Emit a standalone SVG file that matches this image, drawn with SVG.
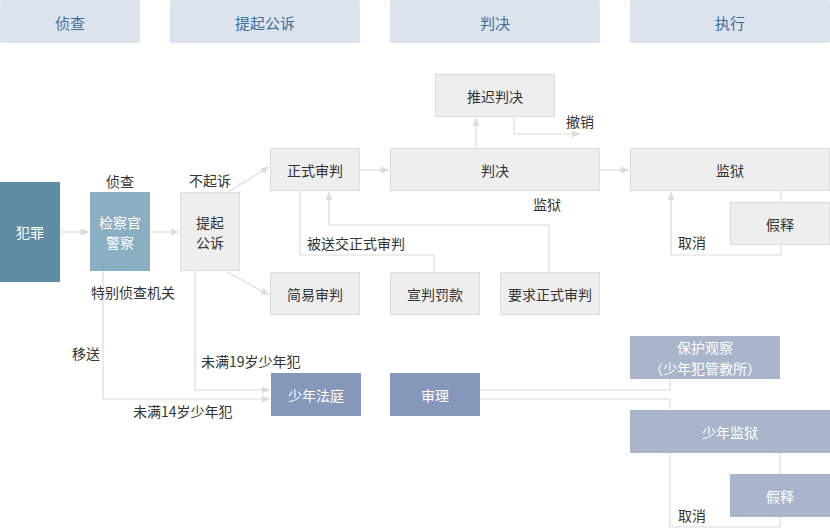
<svg xmlns="http://www.w3.org/2000/svg" width="830" height="528" viewBox="0 0 830 528">
<defs>
<marker id="ar" viewBox="0 0 8 8" refX="8" refY="4" markerWidth="8" markerHeight="8" markerUnits="userSpaceOnUse" orient="auto">
<path d="M0,0.5 L8,4 L0,7.5 Z" fill="#dcdcdc"/>
</marker>
<style>
text{font-family:"Noto Sans CJK SC","Noto Sans",sans-serif;font-size:14px;fill:#333;text-anchor:middle;dominant-baseline:central}
.hd rect{fill:#dce3ec}
.hd text{fill:#3f6e98;font-size:15px}
.g rect{fill:#eeeeee;stroke:#dddddd;stroke-width:1}
.w text{fill:#fff}
.c{fill:none;stroke:#dcdcdc;stroke-width:1.2}
.lb{text-anchor:start}
</style>
</defs>
<g id="headers" class="hd">
<rect x="0" y="0" width="140" height="43" rx="2"/><text x="70" y="22">侦查</text>
<rect x="170" y="0" width="190" height="43" rx="2"/><text x="265" y="22">提起公诉</text>
<rect x="390" y="0" width="210" height="43" rx="2"/><text x="495" y="22">判决</text>
<rect x="630" y="0" width="200" height="43" rx="2"/><text x="730" y="22">执行</text>
</g>
<g id="connectors">
<path class="c" d="M60,232 H89" marker-end="url(#ar)"/>
<path class="c" d="M150,232 H179" marker-end="url(#ar)"/>
<path class="c" d="M228,192 L269,167" marker-end="url(#ar)"/>
<path class="c" d="M227,272 L269,295" marker-end="url(#ar)"/>
<path class="c" d="M360,170 H389" marker-end="url(#ar)"/>
<path class="c" d="M476,148 V118" marker-end="url(#ar)"/>
<path class="c" d="M514,117 V134 H580" marker-end="url(#ar)"/>
<path class="c" d="M600,170 H629" marker-end="url(#ar)"/>
<path class="c" d="M781,191 V255 H671 V192" marker-end="url(#ar)"/>
<path class="c" d="M434,272 V255 H300 V191"/>
<path class="c" d="M549,272 V225 H329 V192" marker-end="url(#ar)"/>
<path class="c" d="M103,271 V399 H270" marker-end="url(#ar)"/>
<path class="c" d="M195,271 V390 H270" marker-end="url(#ar)"/>
<path class="c" d="M480,390 H670 V379"/>
<path class="c" d="M480,399 H670 V409"/>
<path class="c" d="M780,453 V527 H670 V453"/>
</g>
<g id="n-crime" class="w"><rect x="0" y="182" width="60" height="100" fill="#5f8ba3"/><text x="30" y="232">犯罪</text></g>
<g id="n-police" class="w"><rect x="90" y="192" width="60" height="79" fill="#8aaec2"/><text x="120" y="222">检察官</text><text x="120" y="242">警察</text></g>
<g id="n-prosecute" class="g"><rect x="180.5" y="192.5" width="59" height="78"/><text x="210" y="222">提起</text><text x="210" y="242">公诉</text></g>
<g id="n-formal" class="g"><rect x="270.5" y="148.5" width="89" height="42"/><text x="315" y="170">正式审判</text></g>
<g id="n-judgment" class="g"><rect x="390.5" y="148.5" width="209" height="42"/><text x="495" y="170">判决</text></g>
<g id="n-defer" class="g"><rect x="435.5" y="74.5" width="119" height="42"/><text x="495" y="96">推迟判决</text></g>
<g id="n-prison" class="g"><rect x="630.5" y="148.5" width="199" height="42"/><text x="730" y="170">监狱</text></g>
<g id="n-parole1" class="g"><rect x="730.5" y="202.5" width="99" height="42"/><text x="780" y="224">假释</text></g>
<g id="n-summary" class="g"><rect x="270.5" y="272.5" width="89" height="42"/><text x="315" y="294">简易审判</text></g>
<g id="n-fine" class="g"><rect x="390.5" y="272.5" width="89" height="42"/><text x="435" y="294">宣判罚款</text></g>
<g id="n-request" class="g"><rect x="500.5" y="272.5" width="99" height="42"/><text x="550" y="294">要求正式审判</text></g>
<g id="n-juvcourt" class="w"><rect x="271" y="373" width="90" height="43" fill="#8698ba"/><text x="316" y="395">少年法庭</text></g>
<g id="n-hearing" class="w"><rect x="390" y="373" width="90" height="43" fill="#8698ba"/><text x="435" y="395">审理</text></g>
<g id="n-probation" class="w"><rect x="630" y="336" width="150" height="43" fill="#a9b5ca"/><text x="705" y="347">保护观察</text><text x="705" y="368">（少年犯管教所）</text></g>
<g id="n-juvprison" class="w"><rect x="630" y="410" width="200" height="43" fill="#a9b5ca"/><text x="730" y="432">少年监狱</text></g>
<g id="n-parole2" class="w"><rect x="730" y="474" width="100" height="43" fill="#a9b5ca"/><text x="780" y="496">假释</text></g>
<g id="labels">
<text x="120" y="181">侦查</text>
<text x="210" y="180">不起诉</text>
<text class="lb" x="91" y="292">特别侦查机关</text>
<text class="lb" x="307" y="243">被送交正式审判</text>
<text x="547" y="204">监狱</text>
<text class="lb" x="566" y="121">撤销</text>
<text class="lb" x="678" y="242">取消</text>
<text class="lb" x="72" y="353">移送</text>
<text class="lb" x="201" y="361">未满19岁少年犯</text>
<text class="lb" x="133" y="411">未满14岁少年犯</text>
<text class="lb" x="678" y="515">取消</text>
</g>
</svg>
